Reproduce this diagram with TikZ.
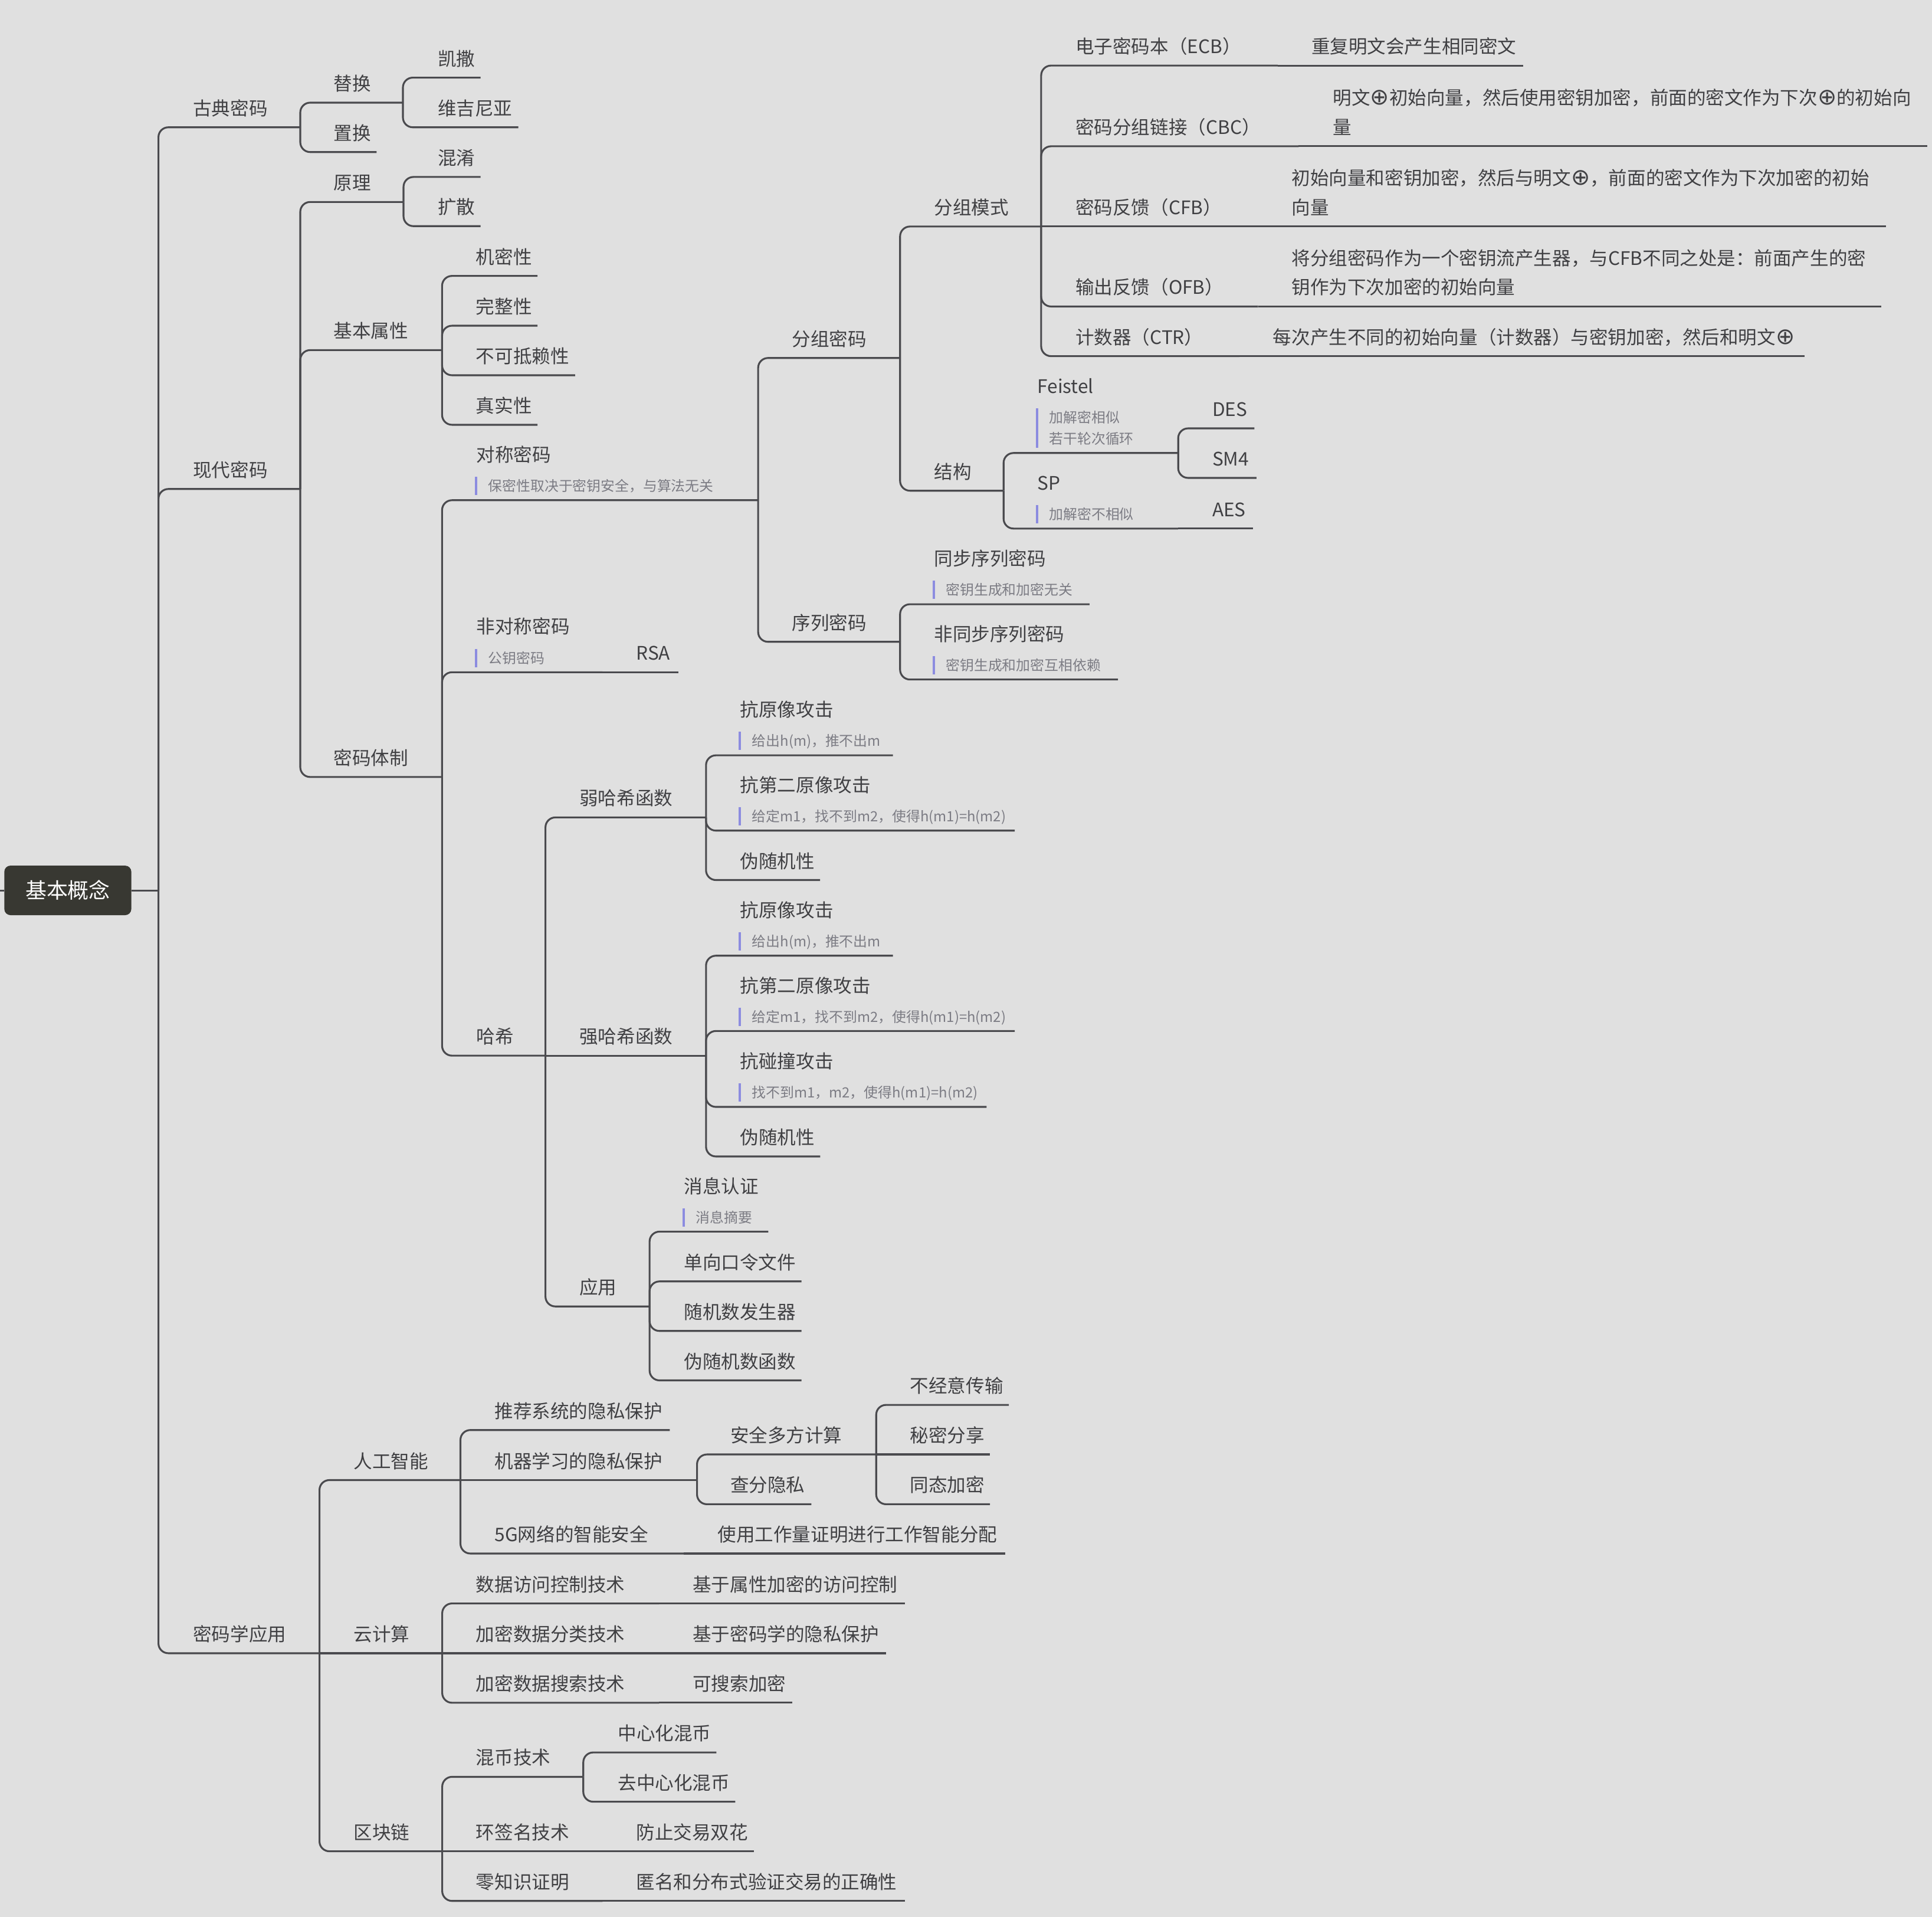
\documentclass[tikz,border=0pt]{standalone}
\usepackage{fontspec}
\newfontfamily\cjk{Noto Sans CJK SC}
\newfontfamily\djv{DejaVu Sans}
\definecolor{bgc}{HTML}{E0E0E0}
\definecolor{linec}{HTML}{4A4A4E}
\definecolor{textc}{HTML}{404043}
\definecolor{notec}{HTML}{7C7C84}
\definecolor{barc}{HTML}{8C8CE0}
\definecolor{rootc}{HTML}{383832}
\tikzset{
  conn/.style={draw=linec, line width=0.85pt, rounded corners=0.16cm},
  mtext/.style={anchor=base west, inner sep=0pt, text=textc, font=\cjk\fontsize{8.6pt}{13.6pt}\selectfont},
  ntext/.style={anchor=base west, inner sep=0pt, text=notec, font=\cjk\fontsize{6.5pt}{9.9pt}\selectfont},
  notebar/.style={draw=barc, line width=1.0pt},
  rootbox/.style={fill=rootc, rounded corners=0.1cm, minimum width=2.062cm, minimum height=0.804cm, inner sep=0pt, text=white, font=\cjk\fontsize{9.8pt}{12pt}\selectfont},
}
\newcommand\xo{{\djv\fontsize{10.5pt}{13.6pt}\selectfont ⊕}}
% parent, name, xtext, yline, xend, text
\newcommand\mmk[6]{\coordinate (#2) at (#5,#4);\node[mtext] (#2-t) at (#3,{#4-9.8}) {#6};\draw[conn] (#1) |- (#2);}
\newcommand\mms[6]{\coordinate (#2) at (#5,#4);\node[mtext] (#2-t) at (#3,{#4-9.8}) {#6};\draw[conn] (#1) -- (#2);}
\newcommand\mml[6]{\coordinate (#2) at (#5,#4);\node[mtext, align=left] (#2-t) at (#3,{#4-9.8}) {#6};\draw[conn] (#1) -- (#2);}
\newcommand\mmn[7]{\coordinate (#2) at (#5,#4);\node[mtext] (#2-t) at (#3,{#4-31.3}) {#6};\node[ntext] (#2-n) at ({#3+9.6},{#4-7.3}) {#7};\draw[notebar] (#3,{#4-19}) -- (#3,{#4-4.2});\draw[conn] (#1) |- (#2);}
\begin{document}
\begin{tikzpicture}[x=0.02cm, y=-0.02cm]
\fill[bgc] (0,0) rectangle (1568,1555.55);
\useasboundingbox (0,0) rectangle (1568,1555.55);
% root
\node[rootbox] (root) at (55.05,722.5) {基本概念};
\coordinate (stub) at (0,722.5);
\coordinate (R) at (128.6,722.5);
\draw[conn] (stub) -- (root.west);
\draw[conn] (root.east) -- (R);
% level 1
\mmk{R}{gd}{156.4}{103.3}{243.7}{古典密码}
\mmk{R}{xd}{156.4}{396.8}{243.7}{现代密码}
\mmk{R}{yy}{156.4}{1341.5}{259.3}{密码学应用}
% classical
\mmk{gd}{th}{270.5}{83.3}{327}{替换}
\mmk{gd}{zh}{270.5}{123.4}{305.6}{置换}
\mmk{th}{ks}{355}{63}{390}{凯撒}
\mmk{th}{wj}{355}{103.3}{420.7}{维吉尼亚}
% modern
\mmk{xd}{yl}{270.5}{163.9}{327.5}{原理}
\mmk{xd}{jb}{270.5}{284.1}{358.8}{基本属性}
\mmk{xd}{mt}{270.5}{630.5}{358.8}{密码体制}
\mmk{yl}{hx}{355}{143.6}{390}{混淆}
\mmk{yl}{kd}{355}{183.5}{390}{扩散}
\mmk{jb}{jm}{386}{223.9}{436.2}{机密性}
\mmk{jb}{wz}{386}{264.3}{436.2}{完整性}
\mmk{jb}{bk}{386}{304.5}{466.8}{不可抵赖性}
\mmk{jb}{zs}{386}{344.7}{436.2}{真实性}
\mmn{mt}{dc}{386.4}{405.9}{615.3}{对称密码}{保密性取决于密钥安全，与算法无关}
\mmn{mt}{fd}{386.4}{545.5}{489}{非对称密码}{公钥密码}
\mms{fd}{rsa}{516}{545.5}{550.6}{RSA}
\mmk{mt}{hh}{386.4}{856.6}{442.7}{哈希}
% symmetric
\mmk{dc}{fz}{642.5}{290.5}{730.5}{分组密码}
\mmk{dc}{xl}{642.5}{520.8}{730.5}{序列密码}
\mmk{fz}{ms}{757.8}{183.8}{845}{分组模式}
\mmk{fz}{jg}{757.8}{398.2}{814.5}{结构}
\mmk{ms}{ecb}{872.6}{53.2}{1037}{电子密码本（ECB）}
\mms{ecb}{ecbd}{1064}{53.2}{1236}{重复明文会产生相同密文}
\mmk{ms}{cbc}{872.6}{118.7}{1054}{密码分组链接（CBC）}
\mml{cbc}{cbcd}{1081.6}{118.7}{1564}{明文\xo 初始向量，然后使用密钥加密，前面的密文作为下次\xo 的初始向\\量}
\mms{ms}{cfb}{872.6}{183.8}{1021}{密码反馈（CFB）}
\mml{cfb}{cfbd}{1048}{183.8}{1530.5}{初始向量和密钥加密，然后与明文\xo ，前面的密文作为下次加密的初始\\向量}
\mmk{ms}{ofb}{872.6}{248.7}{1021}{输出反馈（OFB）}
\mml{ofb}{ofbd}{1048}{248.7}{1527}{将分组密码作为一个密钥流产生器，与CFB不同之处是：前面产生的密\\钥作为下次加密的初始向量}
\mmk{ms}{ctr}{872.6}{289}{1006}{计数器（CTR）}
\mms{ctr}{ctrd}{1032.8}{289}{1464.7}{每次产生不同的初始向量（计数器）与密钥加密，然后和明文\xo}
% structure
\coordinate (fei) at (956.2,367.6);
\node[mtext] (fei-t) at (841.6,319.3) {Feistel};
\node[ntext, align=left] (fei-n) at (851.2,360.5) {加解密相似\\若干轮次循环};
\draw[notebar] (841.6,331.5) -- (841.6,363.5);
\draw[conn] (jg) |- (fei);
\mmn{jg}{sp}{841.6}{428.9}{956}{SP}{加解密不相似}
\mms{sp}{aes}{983.6}{428.9}{1017}{AES}
\mmk{fei}{des}{983.6}{347.6}{1018}{DES}
\mmk{fei}{smf}{983.6}{387.8}{1019.7}{SM4}
% stream
\mmn{xl}{tb}{757.8}{490.3}{884.2}{同步序列密码}{密钥生成和加密无关}
\mmn{xl}{ftb}{757.8}{551.4}{907.3}{非同步序列密码}{密钥生成和加密互相依赖}
% hash
\mmk{hh}{rh}{470}{663.3}{573}{弱哈希函数}
\mms{hh}{qh}{470}{856.6}{573}{强哈希函数}
\mmk{hh}{ay}{470}{1060.1}{527.2}{应用}
\mmn{rh}{ra}{600.4}{612.9}{724.7}{抗原像攻击}{给出h(m)，推不出m}
\mmn{rh}{rb}{600.4}{674}{823.6}{抗第二原像攻击}{给定m1，找不到m2，使得h(m1)=h(m2)}
\mmk{rh}{rc}{600.4}{714.1}{665.6}{伪随机性}
\mmn{qh}{qa}{600.4}{775.5}{724.7}{抗原像攻击}{给出h(m)，推不出m}
\mmn{qh}{qb}{600.4}{836.6}{823.6}{抗第二原像攻击}{给定m1，找不到m2，使得h(m1)=h(m2)}
\mmn{qh}{qc}{600.4}{898.2}{800.7}{抗碰撞攻击}{找不到m1，m2，使得h(m1)=h(m2)}
\mmk{qh}{qd}{600.4}{938.4}{665.7}{伪随机性}
\mmn{ay}{aa}{554.8}{999.4}{623.6}{消息认证}{消息摘要}
\mmk{ay}{ab}{554.8}{1039.8}{650.5}{单向口令文件}
\mmk{ay}{ac}{554.8}{1080}{650.5}{随机数发生器}
\mmk{ay}{ad}{554.8}{1120.1}{650.5}{伪随机数函数}
% applications
\mmk{yy}{ai}{286.7}{1201}{373.7}{人工智能}
\mms{yy}{yun}{286.7}{1341.5}{358.9}{云计算}
\mmk{yy}{qkl}{286.7}{1502.2}{358.9}{区块链}
\mmk{ai}{tj}{401.2}{1160.4}{543.6}{推荐系统的隐私保护}
\mms{ai}{jq}{401.2}{1201}{565.7}{机器学习的隐私保护}
\mmk{ai}{gw}{401.2}{1260.6}{555}{5G网络的智能安全}
\mms{gw}{gwd}{582.2}{1260.6}{815.8}{使用工作量证明进行工作智能分配}
\mmk{jq}{aq}{592.4}{1180.2}{711.1}{安全多方计算}
\mmk{jq}{cf}{592.4}{1220.6}{658.5}{查分隐私}
\mmk{aq}{bj}{738.3}{1140}{818.7}{不经意传输}
\mms{aq}{mm}{738.3}{1180.2}{803.4}{秘密分享}
\mmk{aq}{tt}{738.3}{1220.6}{803.4}{同态加密}
\mmk{yun}{sj}{386}{1301.1}{535}{数据访问控制技术}
\mms{sj}{sjd}{561.9}{1301.1}{734.5}{基于属性加密的访问控制}
\mms{yun}{fl}{386}{1341.5}{535}{加密数据分类技术}
\mms{fl}{fld}{561.9}{1341.5}{719.2}{基于密码学的隐私保护}
\mmk{yun}{ss}{386}{1381.7}{535}{加密数据搜索技术}
\mms{ss}{ssd}{561.9}{1381.7}{642.8}{可搜索加密}
\mmk{qkl}{hb}{386}{1441.8}{473.4}{混币技术}
\mms{qkl}{hq}{386}{1502.2}{489}{环签名技术}
\mms{hq}{hqd}{516.1}{1502.2}{611.9}{防止交易双花}
\mmk{qkl}{lz}{386}{1542.5}{489}{零知识证明}
\mms{lz}{lzd}{516.1}{1542.5}{734.5}{匿名和分布式验证交易的正确性}
\mmk{hb}{zx}{501.2}{1422}{581.4}{中心化混币}
\mmk{hb}{qz}{501.2}{1462}{596.7}{去中心化混币}
\end{tikzpicture}
\end{document}
